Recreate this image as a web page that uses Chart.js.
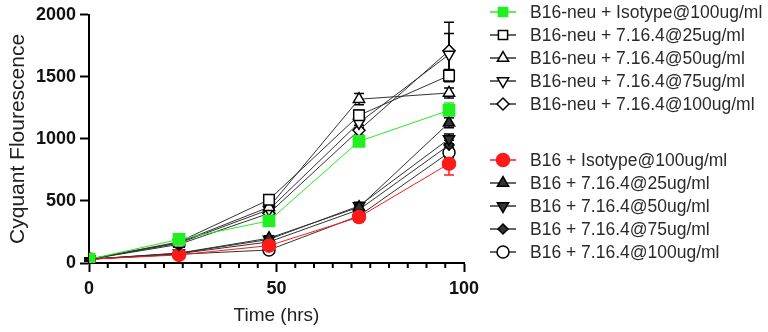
<!DOCTYPE html>
<html>
<head>
<meta charset="utf-8">
<script src="https://cdn.jsdelivr.net/npm/chart.js@4/dist/chart.umd.min.js"></script>
<style>
  html, body { margin: 0; padding: 0; background: #fff; }
  #growthChart { display: block; }
</style>
</head>
<body>
<canvas id="growthChart" width="768" height="332"></canvas>
<script>
// time points (hrs)
const hours = [0, 24, 48, 72, 96];

// B16-neu group
const neuIsotype = [30, 190, 340, 980, 1230];
const neu25 = [30, 170, 510, 1190, 1510];
const neu50 = [30, 165, 450, 1320, 1370];
const neu75 = [30, 160, 430, 1130, 1680];
const neu100 = [30, 150, 400, 1070, 1710];

// B16 group
const b16Isotype = [30, 65, 140, 370, 800];
const b16_25 = [30, 80, 200, 450, 1130];
const b16_50 = [30, 78, 190, 460, 1000];
const b16_75 = [30, 75, 170, 430, 950];
const b16_100 = [30, 70, 105, 380, 890];

// error (SD) per point
const errNeuIsotype = [10, 15, 20, 40, 60];
const errNeu25 = [10, 15, 20, 40, 50];
const errNeu50 = [10, 15, 20, 45, 40];
const errNeu75 = [10, 15, 20, 40, 170];
const errNeu100 = [10, 15, 20, 40, 230];
const errB16Isotype = [10, 10, 20, 40, 90];
const errB16_25 = [10, 10, 20, 30, 40];
const errB16_50 = [10, 10, 20, 30, 40];
const errB16_75 = [10, 10, 20, 30, 40];
const errB16_100 = [10, 10, 20, 30, 40];

const yTicks = [0, 500, 1000, 1500, 2000];
const legendRows = [12, 35, 58, 81, 104, 160, 183, 206, 229, 252];

const GREEN = "#22ee22";
const RED = "#ff1a1a";
const DARK = "#333333";
const FONT = "'Liberation Sans', Arial, sans-serif";

function makeSet(label, values, err, color, style, filled, rotation, radius) {
  return {
    label: label,
    data: hours.map((h, i) => ({ x: h, y: values[i] })),
    err: err,
    borderColor: color,
    backgroundColor: filled ? color : "#ffffff",
    pointBackgroundColor: filled ? color : "#ffffff",
    pointBorderColor: color === DARK ? "#000000" : color,
    pointBorderWidth: 1.5,
    pointStyle: style,
    pointRotation: rotation || 0,
    pointRadius: radius || 6,
    borderWidth: 1,
    tension: 0,
  };
}

const datasets = [
  makeSet("B16-neu + Isotype@100ug/ml", neuIsotype, errNeuIsotype, GREEN, "rect", true, 0, 8),
  makeSet("B16-neu + 7.16.4@25ug/ml", neu25, errNeu25, DARK, "rect", false, 0, 7.5),
  makeSet("B16-neu + 7.16.4@50ug/ml", neu50, errNeu50, DARK, "triangle", false, 0, 6.5),
  makeSet("B16-neu + 7.16.4@75ug/ml", neu75, errNeu75, DARK, "triangle", false, 180, 6.5),
  makeSet("B16-neu + 7.16.4@100ug/ml", neu100, errNeu100, DARK, "rectRot", false, 0, 6),
  makeSet("B16 + Isotype@100ug/ml", b16Isotype, errB16Isotype, RED, "circle", true, 0, 6.5),
  makeSet("B16 + 7.16.4@25ug/ml", b16_25, errB16_25, DARK, "triangle", true, 0, 6.5),
  makeSet("B16 + 7.16.4@50ug/ml", b16_50, errB16_50, DARK, "triangle", true, 180, 6.5),
  makeSet("B16 + 7.16.4@75ug/ml", b16_75, errB16_75, DARK, "rectRot", true, 0, 5),
  makeSet("B16 + 7.16.4@100ug/ml", b16_100, errB16_100, DARK, "circle", false, 0, 6),
];

// marker for the legend, same shapes as the chart points
function drawMarker(ctx, ds, x, y, r) {
  ctx.save();
  ctx.translate(x, y);
  ctx.rotate((ds.pointRotation * Math.PI) / 180);
  ctx.beginPath();
  if (ds.pointStyle === "circle") {
    ctx.arc(0, 0, r, 0, Math.PI * 2);
  } else if (ds.pointStyle === "rect") {
    const s = r * Math.SQRT1_2;
    ctx.rect(-s, -s, 2 * s, 2 * s);
  } else if (ds.pointStyle === "rectRot") {
    ctx.moveTo(0, -r);
    ctx.lineTo(r, 0);
    ctx.lineTo(0, r);
    ctx.lineTo(-r, 0);
    ctx.closePath();
  } else if (ds.pointStyle === "triangle") {
    const h = (r * 3) / Math.sqrt(3);
    ctx.moveTo(0, -r);
    ctx.lineTo(h / 2, r / 2);
    ctx.lineTo(-h / 2, r / 2);
    ctx.closePath();
  }
  ctx.fillStyle = ds.pointBackgroundColor;
  ctx.fill();
  ctx.lineWidth = 1.5;
  ctx.strokeStyle = ds.pointBorderColor;
  ctx.stroke();
  ctx.restore();
}

// error bars drawn through the scales
const errorBars = {
  id: "errorBars",
  beforeDatasetsDraw(chart) {
    const ctx = chart.ctx;
    const xs = chart.scales.x;
    const ys = chart.scales.y;
    ctx.save();
    chart.data.datasets.forEach((ds) => {
      ctx.strokeStyle = ds.pointBorderColor;
      ctx.lineWidth = 1.5;
      ds.data.forEach((p, i) => {
        const e = ds.err[i];
        if (!e) return;
        const px = xs.getPixelForValue(p.x);
        const top = ys.getPixelForValue(p.y + e);
        const bot = ys.getPixelForValue(p.y - e);
        ctx.beginPath();
        ctx.moveTo(px, top);
        ctx.lineTo(px, bot);
        ctx.moveTo(px - 5, top);
        ctx.lineTo(px + 5, top);
        ctx.moveTo(px - 5, bot);
        ctx.lineTo(px + 5, bot);
        ctx.stroke();
      });
    });
    ctx.restore();
  },
};

// minor ticks on the x axis + grouped legend
const extras = {
  id: "extras",
  afterDraw(chart) {
    const ctx = chart.ctx;
    const xs = chart.scales.x;
    const ys = chart.scales.y;
    const base = ys.getPixelForValue(0);
    ctx.save();
    ctx.strokeStyle = "#000";
    ctx.lineWidth = 2;
    for (let v = 5; v < 100; v += 5) {
      if (v % 50 === 0) continue;
      const px = xs.getPixelForValue(v);
      ctx.beginPath();
      ctx.moveTo(px, base);
      ctx.lineTo(px, base + 5);
      ctx.stroke();
    }

    ctx.font = "17.5px " + FONT;
    ctx.textBaseline = "middle";
    chart.data.datasets.forEach((ds, i) => {
      const y = legendRows[i];
      ctx.strokeStyle = ds.borderColor;
      ctx.lineWidth = 1.5;
      ctx.beginPath();
      ctx.moveTo(490, y);
      ctx.lineTo(516, y);
      ctx.stroke();
      drawMarker(ctx, ds, 503, y, Math.min(ds.pointRadius, 6.5));
      ctx.fillStyle = "#2a2a2a";
      ctx.fillText(ds.label, 530, y + 1);
    });
    ctx.restore();
  },
};

const ctx = document.getElementById("growthChart").getContext("2d");
new Chart(ctx, {
  type: "line",
  data: { datasets: datasets },
  plugins: [errorBars, extras],
  options: {
    responsive: false,
    animation: false,
    layout: { padding: { top: 14, right: 304, left: 0, bottom: 0 } },
    plugins: { legend: { display: false }, tooltip: { enabled: false } },
    scales: {
      x: {
        type: "linear",
        min: 0,
        max: 100,
        afterFit: (scale) => { scale.height = 69; },
        border: { display: true, color: "#000", width: 2 },
        grid: { drawOnChartArea: false, tickLength: 9, tickWidth: 2, tickColor: "#000" },
        ticks: {
          stepSize: 50,
          color: "#111",
          padding: 6,
          maxRotation: 0,
          font: { family: FONT, size: 18, weight: "bold" },
        },
        title: {
          display: true,
          text: "Time (hrs)",
          color: "#222",
          padding: { top: 4, bottom: 5 },
          font: { family: FONT, size: 19 },
        },
      },
      y: {
        min: 0,
        max: 2000,
        afterFit: (scale) => { scale.width = 89; },
        afterBuildTicks: (scale) => { scale.ticks = yTicks.map((v) => ({ value: v })); },
        border: { display: true, color: "#000", width: 2 },
        grid: { drawOnChartArea: false, tickLength: 9, tickWidth: 2, tickColor: "#000" },
        ticks: {
          color: "#111",
          padding: 4,
          callback: (v) => String(v),
          font: { family: FONT, size: 18, weight: "bold" },
        },
        title: {
          display: true,
          text: "Cyquant Flourescence",
          color: "#222",
          padding: { top: 6, bottom: 2 },
          font: { family: FONT, size: 21 },
        },
      },
    },
  },
});
</script>
</body>
</html>
